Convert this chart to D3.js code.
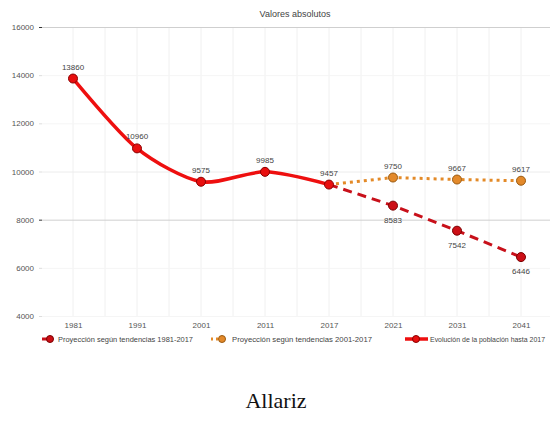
<!DOCTYPE html>
<html><head><meta charset="utf-8">
<script src="https://cdn.jsdelivr.net/npm/d3@7"></script>
<style>body{margin:0;background:#fff}svg{display:block}</style>
</head><body>
<svg id="c" width="550" height="433"></svg>
<script>
const categories = ["1981","1991","2001","2011","2017","2021","2031","2041"];
const historyYears = ["1981","1991","2001","2011","2017"];
const historyValues = [13860,10960,9575,9985,9457];
const projAYears = ["2017","2021","2031","2041"];
const projAValues = [9457,8583,7542,6446];
const projBYears = ["2017","2021","2031","2041"];
const projBValues = [9457,9750,9667,9617];
const yTicks = [4000,6000,8000,10000,12000,14000,16000];
const legendLabels = ["Proyección según tendencias 1981-2017","Proyección según tendencias 2001-2017","Evolución de la población hasta 2017"];
const titleText = "Valores absolutos";
const caption = "Allariz";

const svg = d3.select("#c");
const x = d3.scalePoint().domain(categories).range([73,521]);
const y = d3.scaleLinear().domain([4000,16000]).range([316,27]);
const font = "Liberation Sans, Arial, sans-serif";

// vertical gridlines (at categories and midpoints)
const step = x.step();
const vg = [];
categories.forEach((c,i)=>{vg.push(x(c)); if(i<categories.length-1) vg.push(x(c)+step/2);});
vg.push(x(categories[categories.length-1])+step/2);
svg.append("g").selectAll("line").data(vg).join("line")
  .attr("x1",d=>d).attr("x2",d=>d).attr("y1",y(16000)).attr("y2",y(4000))
  .attr("stroke","#f0f0f0").attr("stroke-width",1);

// horizontal gridlines
svg.append("g").selectAll("line").data(yTicks).join("line")
  .attr("x1",42).attr("x2",550).attr("y1",d=>y(d)+0.5).attr("y2",d=>y(d)+0.5)
  .attr("stroke",d=>(d===16000||d===8000)?"#cfcfcf":(d===10000?"#ececec":"#f5f5f5"));

// y axis
const ya = svg.append("g").attr("transform","translate(42,0)")
  .call(d3.axisLeft(y).tickValues(yTicks).tickSize(3).tickFormat(d3.format("d")));
ya.select(".domain").remove();
ya.selectAll(".tick line").attr("stroke",d=>(d===16000||d===8000)?"#333":"#ddd");
ya.selectAll("text").attr("font-family",font).attr("font-size",8).attr("fill","#555").attr("x",-8);

// x axis labels
const xa = svg.append("g").attr("transform","translate(0,318)")
  .call(d3.axisBottom(x).tickSize(0));
xa.select(".domain").remove();
xa.selectAll("text").attr("font-family",font).attr("font-size",8).attr("fill","#555").attr("dy","0.9em");

// title
svg.append("text").attr("x",295).attr("y",17).attr("text-anchor","middle")
  .attr("font-family",font).attr("font-size",9).attr("fill","#444").text(titleText);

// lines
const hist = historyYears.map((c,i)=>({c,v:historyValues[i]}));
const pa = projAYears.map((c,i)=>({c,v:projAValues[i]}));
const pb = projBYears.map((c,i)=>({c,v:projBValues[i]}));

const lineCurve = d3.line().x(d=>x(d.c)).y(d=>y(d.v)).curve(d3.curveCardinal.tension(0.2));
const lineStraight = d3.line().x(d=>x(d.c)).y(d=>y(d.v));

svg.append("path").datum(pb).attr("d",lineStraight).attr("fill","none")
  .attr("stroke","#e38a28").attr("stroke-width",3).attr("stroke-dasharray","3,4");
svg.append("path").datum(pa).attr("d",lineStraight).attr("fill","none")
  .attr("stroke","#c8101a").attr("stroke-width",3).attr("stroke-dasharray","9,6");
svg.append("path").datum(hist).attr("d",lineCurve).attr("fill","none")
  .attr("stroke","#ee0f0f").attr("stroke-width",3.5);

// dots
function dots(data, fill, stroke){
  svg.append("g").selectAll("circle").data(data).join("circle")
    .attr("cx",d=>x(d.c)).attr("cy",d=>y(d.v)).attr("r",4.5)
    .attr("fill",fill).attr("stroke",stroke).attr("stroke-width",1);
}
dots(pb.slice(1),"#e3892a","#9a5a10");
dots(pa.slice(1),"#cc0f16","#7a0000");
dots(hist,"#e80f0f","#8a0000");

// value labels
function labels(data, dy){
  svg.append("g").selectAll("text").data(data).join("text")
    .attr("x",d=>x(d.c)).attr("y",d=>y(d.v)+dy).attr("text-anchor","middle")
    .attr("font-family",font).attr("font-size",8).attr("fill","#444").text(d=>d.v);
}
labels(hist,-9);
labels(pb.slice(1),-9);
labels(pa.slice(1),17);

// legend
const lg = svg.append("g").attr("font-family",font).attr("font-size",7).attr("fill","#444");
// item 1
lg.append("line").attr("x1",42).attr("x2",53).attr("y1",339).attr("y2",339).attr("stroke","#c8101a").attr("stroke-width",3);
lg.append("circle").attr("cx",50).attr("cy",339).attr("r",3.5).attr("fill","#cc0f16").attr("stroke","#7a0000");
lg.append("text").attr("x",58).attr("y",341.5).attr("textLength",135).attr("lengthAdjust","spacingAndGlyphs").text(legendLabels[0]);
// item 2
lg.append("line").attr("x1",211).attr("x2",226).attr("y1",339).attr("y2",339).attr("stroke","#e38a28").attr("stroke-width",3).attr("stroke-dasharray","2,3");
lg.append("circle").attr("cx",222).attr("cy",339).attr("r",3.5).attr("fill","#e3892a").attr("stroke","#9a5a10");
lg.append("text").attr("x",232).attr("y",341.5).attr("textLength",140).attr("lengthAdjust","spacingAndGlyphs").text(legendLabels[1]);
// item 3
lg.append("line").attr("x1",405).attr("x2",428).attr("y1",339).attr("y2",339).attr("stroke","#ee0f0f").attr("stroke-width",3.5);
lg.append("circle").attr("cx",416).attr("cy",339).attr("r",3.5).attr("fill","#e80f0f").attr("stroke","#8a0000");
lg.append("text").attr("x",430).attr("y",341.5).attr("textLength",115).attr("lengthAdjust","spacingAndGlyphs").text(legendLabels[2]);

// caption
svg.append("text").attr("x",276).attr("y",408).attr("text-anchor","middle")
  .attr("font-family","Liberation Serif, Times New Roman, serif").attr("font-size",22).attr("fill","#111").text(caption);
</script>
</body></html>
